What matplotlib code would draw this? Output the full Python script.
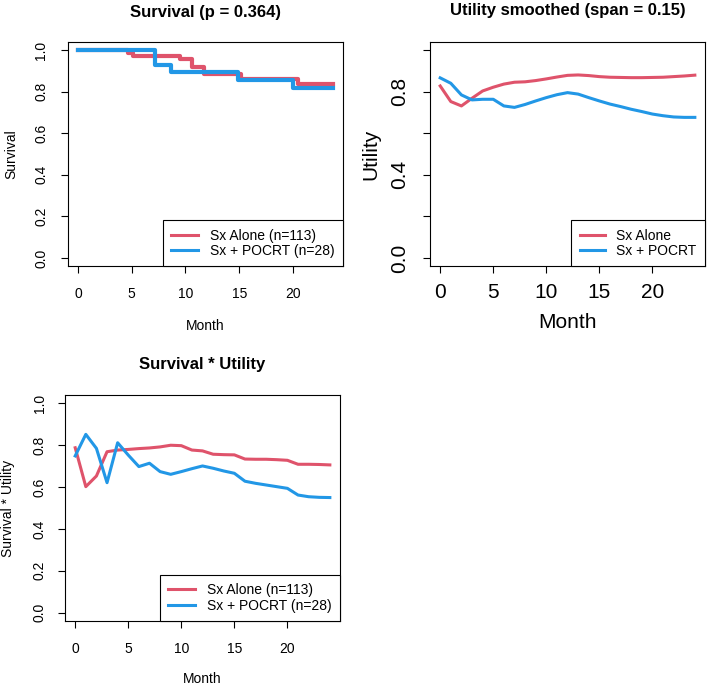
import matplotlib

matplotlib.use("Agg")
import matplotlib.pyplot as plt

plt.rcParams["font.family"] = ["Liberation Sans", "DejaVu Sans"]

RED = "#DF536B"
BLUE = "#2297E6"

# Kaplan-Meier style survival (step functions)
surv_alone_t = [0, 4.65, 5.1, 9.5, 10.6, 11.7, 15.2, 20.5, 23.7]
surv_alone = [1.0, 0.984, 0.973, 0.956, 0.920, 0.883, 0.860, 0.837, 0.837]
surv_pocrt_t = [0, 7.2, 8.7, 14.9, 20.0, 23.7]
surv_pocrt = [1.0, 0.929, 0.895, 0.857, 0.818, 0.818]

# monthly utility (loess smoothed) and survival * utility
months = list(range(25))
util_alone = [0.827, 0.752, 0.731, 0.768, 0.803, 0.821, 0.836, 0.845, 0.847, 0.853,
              0.861, 0.870, 0.878, 0.880, 0.877, 0.872, 0.869, 0.868, 0.867, 0.867,
              0.868, 0.869, 0.872, 0.875, 0.879]
util_pocrt = [0.866, 0.840, 0.784, 0.760, 0.763, 0.763, 0.731, 0.724, 0.738, 0.755,
              0.771, 0.785, 0.795, 0.788, 0.771, 0.755, 0.740, 0.728, 0.715, 0.704,
              0.692, 0.684, 0.678, 0.676, 0.676]
su_alone = [0.788, 0.602, 0.653, 0.769, 0.777, 0.780, 0.784, 0.787, 0.792, 0.800,
            0.798, 0.777, 0.773, 0.757, 0.755, 0.754, 0.734, 0.733, 0.733, 0.731,
            0.728, 0.709, 0.709, 0.708, 0.706]
su_pocrt = [0.749, 0.852, 0.785, 0.621, 0.812, 0.753, 0.698, 0.714, 0.674, 0.661,
            0.674, 0.688, 0.701, 0.690, 0.677, 0.666, 0.628, 0.618, 0.610, 0.602,
            0.594, 0.562, 0.554, 0.551, 0.550]

labels_n = ["Sx Alone (n=113)", "Sx + POCRT (n=28)"]
labels_plain = ["Sx Alone", "Sx + POCRT"]
yticks = [0.0, 0.2, 0.4, 0.6, 0.8, 1.0]
xticks = [0, 5, 10, 15, 20]

fig = plt.figure(figsize=(7.09, 6.9), dpi=100)


def setup(ax, xmax, fs, xpad, ypad, ylabels):
    ax.set_xlim(-0.04 * xmax, xmax * 1.04)
    ax.set_ylim(-0.04, 1.04)
    ax.set_xticks(xticks)
    ax.set_yticks(yticks)
    ax.set_yticklabels(ylabels)
    ax.tick_params(axis="x", length=5, width=0.8, pad=xpad, labelsize=fs)
    ax.tick_params(axis="y", length=5, width=0.8, pad=ypad, labelsize=fs)
    for lab in ax.get_yticklabels():
        lab.set_rotation(90)
        lab.set_va("center")
    for sp in ax.spines.values():
        sp.set_linewidth(0.8)


def add_legend(ax, labels, hl):
    leg = ax.legend(labels, loc="lower right", borderaxespad=0, fancybox=False,
                    fontsize=10, handlelength=hl, handletextpad=0.85,
                    labelspacing=0.1, borderpad=0.6, framealpha=1)
    leg.get_frame().set_edgecolor("black")
    leg.get_frame().set_linewidth(0.8)
    for line in leg.get_lines():
        line.set_linewidth(2.2)


# Panel 1: survival
ax1 = fig.add_axes([0.0955, 0.6141, 0.3883, 0.3255])
ax1.step(surv_alone_t, surv_alone, where="post", color=RED, lw=3)
ax1.step(surv_pocrt_t, surv_pocrt, where="post", color=BLUE, lw=3)
setup(ax1, 23.7, 10, 10, 9, ["0.0", "0.2", "0.4", "0.6", "0.8", "1.0"])
ax1.set_title("Survival (p = 0.364)", fontsize=12, fontweight="bold", pad=18)
ax1.set_xlabel("Month", fontsize=10, va="center")
ax1.xaxis.set_label_coords(0.5, -0.2645)
ax1.set_ylabel("Survival", fontsize=10, va="center")
ax1.yaxis.set_label_coords(-0.2034, 0.5)
add_legend(ax1, labels_n, 1.95)

# Panel 2: utility smoothed
ax2 = fig.add_axes([0.6065, 0.6141, 0.3879, 0.3255])
ax2.plot(months, util_alone, color=RED, lw=2.2)
ax2.plot(months, util_pocrt, color=BLUE, lw=2.2)
setup(ax2, 24, 15, 7, 10, ["0.0", "", "0.4", "", "0.8", ""])
ax2.set_title("Utility smoothed (span = 0.15)", fontsize=12, fontweight="bold", pad=19)
ax2.set_xlabel("Month", fontsize=15, va="center")
ax2.xaxis.set_label_coords(0.5, -0.251)
ax2.set_ylabel("Utility", fontsize=15, va="center")
ax2.yaxis.set_label_coords(-0.2156, 0.5)
add_legend(ax2, labels_plain, 1.8)

# Panel 3: survival * utility
ax3 = fig.add_axes([0.0917, 0.1, 0.3879, 0.3275])
ax3.plot(months, su_alone, color=RED, lw=2.2)
ax3.plot(months, su_pocrt, color=BLUE, lw=2.2)
setup(ax3, 24, 10, 10, 8, ["0.0", "0.2", "0.4", "0.6", "0.8", "1.0"])
ax3.set_title("Survival * Utility", fontsize=12, fontweight="bold", pad=19)
ax3.set_xlabel("Month", fontsize=10, va="center")
ax3.xaxis.set_label_coords(0.5, -0.2566)
ax3.set_ylabel("Survival * Utility", fontsize=10, va="center")
ax3.yaxis.set_label_coords(-0.206, 0.5)
add_legend(ax3, labels_n, 1.95)

fig.savefig("out.png", dpi=100)
